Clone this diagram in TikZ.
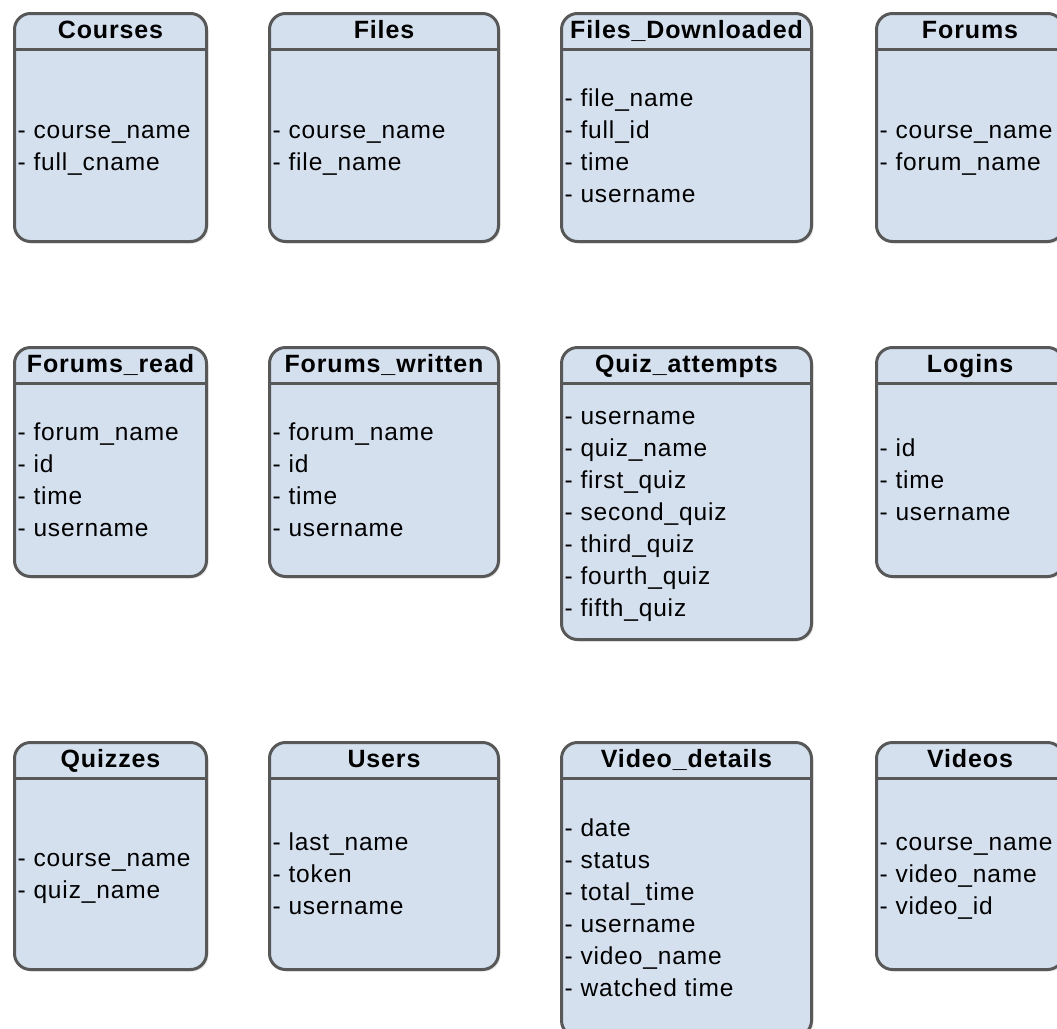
\documentclass[tikz,border=0pt]{standalone}
\usepackage{fontspec}
\setsansfont{Liberation Sans}[LetterSpace=3.5]
\usepackage{xcolor}
\usepackage{tikz}
\usetikzlibrary{calc, shadows}
\definecolor{tablefill}{RGB}{213,224,239}
\definecolor{tableedge}{RGB}{88,88,88}
\tikzset{
  tablebox/.style={
    draw=tableedge, line width=3pt, rounded corners=16pt, fill=tablefill,
    drop shadow={opacity=0.18, shadow xshift=2pt, shadow yshift=-2pt},
    inner sep=0pt
  },
  tabletitle/.style={font=\sffamily\bfseries\fontsize{25}{30}\selectfont, inner sep=0pt, anchor=base},
  tablefields/.style={font=\sffamily\fontsize{24.5}{32}\selectfont, inner sep=0pt, anchor=base west},
  tableline/.style={draw=tableedge, line width=3pt},
}
% #1 name, #2/#3 top left (px), #4 width, #5 height, #6 title, #7 fields
\newcommand{\dbtable}[7]{%
  \node[tablebox, minimum width=#4pt, minimum height=#5pt, anchor=north west] (#1) at (#2,#3) {};
  \coordinate (#1-hl) at ([yshift=-37pt]#1.north west);
  \coordinate (#1-hr) at ([yshift=-37pt]#1.north east);
  \coordinate (#1-mid) at ($(#1-hl)!0.5!(#1.south west)$);
  \node[tabletitle] (#1-title) at ([yshift=-26pt]#1.north) {#6};
  \draw[tableline] (#1-hl) -- (#1-hr);
  \foreach \f [count=\n] in {#7} {\xdef\nfields{\n}}
  \foreach \f [count=\i] in {#7}
    \node[tablefields] (#1-f\i) at ($(#1-mid)+(4.5, {(\i-(\nfields+1)/2)*32+8})$) {- \f};
}

\begin{document}
\begin{tikzpicture}[x=1pt, y=-1pt]
  \clip (0,0) rectangle (1057,1028);
  \fill[white] (0,0) rectangle (1057,1028);

  % row 1
  \dbtable{courses}{13}{12}{192}{228}{Courses}{course\_name, full\_cname}
  \dbtable{files}{268}{12}{229}{228}{Files}{course\_name, file\_name}
  \dbtable{filesdl}{560}{12}{250}{228}{Files\_Downloaded}{file\_name, full\_id, time, username}
  \dbtable{forums}{875}{12}{187}{228}{Forums}{course\_name, forum\_name}

  % row 2
  \dbtable{forumsread}{13}{346}{192}{229}{Forums\_read}{forum\_name, id, time, username}
  \dbtable{forumswritten}{268}{346}{229}{229}{Forums\_written}{forum\_name, id, time, username}
  \dbtable{quizatt}{560}{346}{250}{292}{Quiz\_attempts}{username, quiz\_name, first\_quiz, second\_quiz, third\_quiz, fourth\_quiz, fifth\_quiz}
  \dbtable{logins}{875}{346}{187}{229}{Logins}{id, time, username}

  % row 3
  \dbtable{quizzes}{13}{741}{192}{227}{Quizzes}{course\_name, quiz\_name}
  \dbtable{users}{268}{741}{229}{227}{Users}{last\_name, token, username}
  \dbtable{videodet}{560}{741}{250}{294}{Video\_details}{date, status, total\_time, username, video\_name, watched time}
  \dbtable{videos}{875}{741}{187}{227}{Videos}{course\_name, video\_name, video\_id}
\end{tikzpicture}
\end{document}
